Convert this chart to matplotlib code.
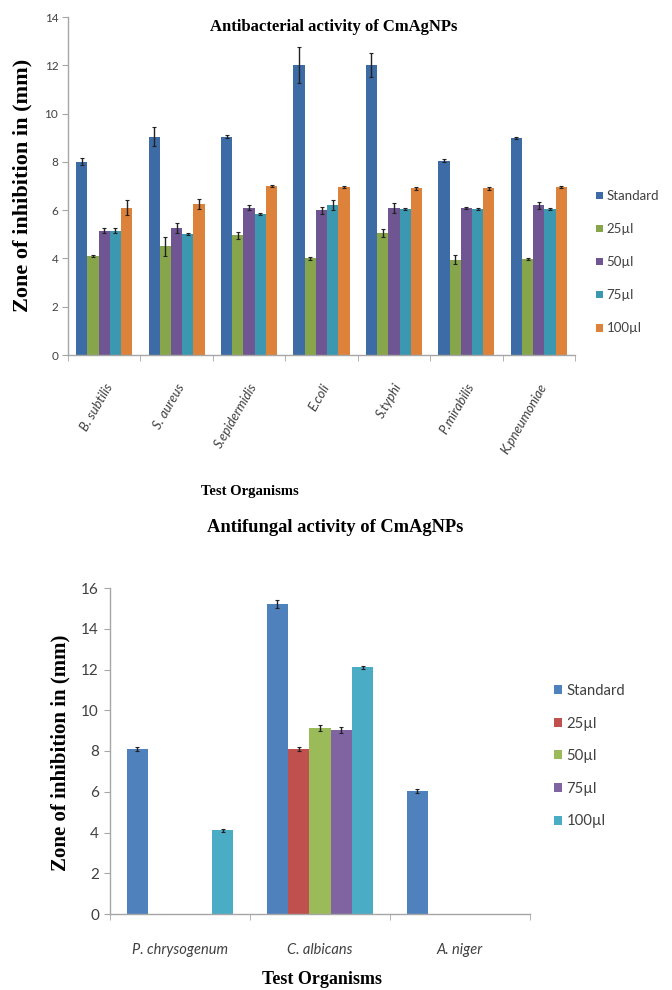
import numpy as np
import matplotlib
matplotlib.use("Agg")
import matplotlib.pyplot as plt
from matplotlib.patches import Patch

# ---------------- data: antibacterial ----------------
bact_orgs = ["B. subtilis", "S. aureus", "S.epidermidis", "E.coli", "S.typhi", "P.mirabilis", "K.pneumoniae"]
bact_series = ["Standard", "25µl", "50µl", "75µl", "100µl"]
bact_std  = [8.0, 9.05, 9.05, 12.0, 12.0, 8.05, 9.0]
bact_25   = [4.1, 4.5, 4.95, 4.0, 5.05, 3.95, 3.97]
bact_50   = [5.15, 5.25, 6.1, 6.0, 6.1, 6.1, 6.2]
bact_75   = [5.15, 5.0, 5.85, 6.2, 6.05, 6.05, 6.05]
bact_100  = [6.1, 6.25, 7.0, 6.95, 6.9, 6.9, 6.95]
bact_std_err = [0.15, 0.4, 0.05, 0.75, 0.5, 0.05, 0.05]
bact_25_err  = [0.05, 0.4, 0.15, 0.05, 0.15, 0.2, 0.05]
bact_50_err  = [0.1, 0.2, 0.1, 0.15, 0.2, 0.05, 0.15]
bact_75_err  = [0.1, 0.05, 0.05, 0.2, 0.05, 0.05, 0.05]
bact_100_err = [0.3, 0.2, 0.05, 0.05, 0.05, 0.05, 0.05]
bact_colors = ["#3C6BA6", "#87A64B", "#6F5592", "#3B98B0", "#DD823B"]

# ---------------- data: antifungal ----------------
fung_orgs = ["P. chrysogenum", "C. albicans", "A. niger"]
fung_series = ["Standard", "25µl", "50µl", "75µl", "100µl"]
fung_std  = [8.1, 15.2, 6.05]
fung_25   = [np.nan, 8.1, np.nan]
fung_50   = [np.nan, 9.15, np.nan]
fung_75   = [np.nan, 9.05, np.nan]
fung_100  = [4.1, 12.1, np.nan]
fung_std_err = [0.1, 0.2, 0.1]
fung_25_err  = [np.nan, 0.1, np.nan]
fung_50_err  = [np.nan, 0.15, np.nan]
fung_75_err  = [np.nan, 0.15, np.nan]
fung_100_err = [0.08, 0.08, np.nan]
fung_colors = ["#4F81BD", "#C0504D", "#9BBB59", "#8064A2", "#4BACC6"]

W, H = 672, 990
fig = plt.figure(figsize=(W / 100, H / 100), dpi=100)
fig.patch.set_facecolor("white")

SERIF = ["Liberation Serif", "DejaVu Serif"]
SANS = ["Lato", "DejaVu Sans"]
spine_c = "#A6A6A6"
tick_c = "#404040"


def fx(px):
    return px / W


def fy(py):
    return 1 - py / H


def style_axes(ax):
    for s in ["top", "right"]:
        ax.spines[s].set_visible(False)
    for s in ["left", "bottom"]:
        ax.spines[s].set_color(spine_c)
        ax.spines[s].set_linewidth(1.0)


# ================= top chart =================
ax1 = fig.add_axes([fx(68), fy(355), fx(575) - fx(68), fy(17) - fy(355)])
style_axes(ax1)
x = np.arange(len(bact_orgs))
bw = 0.155
vals = [bact_std, bact_25, bact_50, bact_75, bact_100]
errs = [bact_std_err, bact_25_err, bact_50_err, bact_75_err, bact_100_err]
for i, (v, e, c, lab) in enumerate(zip(vals, errs, bact_colors, bact_series)):
    pos = x + (i - 2) * bw
    ax1.bar(pos, v, width=bw, color=c, label=lab, zorder=2)
    ax1.errorbar(pos, v, yerr=e, fmt="none", ecolor="#222222", elinewidth=1.0,
                 capsize=1.2, capthick=0.8, zorder=3)
ax1.set_xlim(-0.5, len(bact_orgs) - 0.5)
ax1.set_ylim(0, 14)
ax1.set_yticks(np.arange(0, 15, 2))
ax1.tick_params(axis="y", direction="out", length=4, color=spine_c, labelcolor=tick_c,
                labelsize=8.5, pad=3)
for t in ax1.get_yticklabels():
    t.set_family(SANS)
ax1.set_xticks(x)
ax1.set_xticklabels(bact_orgs, rotation=60, ha="right", va="top", rotation_mode="anchor",
                    fontsize=9.5, style="italic", family=SANS, color=tick_c)
ax1.tick_params(axis="x", which="major", length=0, pad=19)
ax1.set_xticks(np.arange(-0.5, len(bact_orgs) + 0.5, 1), minor=True)
ax1.tick_params(axis="x", which="minor", direction="out", length=4, color=spine_c)

fig.text(fx(334), fy(27), "Antibacterial activity of CmAgNPs", ha="center", va="center",
         family=SERIF, weight="bold", fontsize=12)
fig.text(fx(22), fy(185), "Zone of inhibition in (mm)", ha="center", va="center",
         rotation=90, family=SERIF, weight="bold", fontsize=16)
fig.text(fx(250), fy(492), "Test Organisms", ha="center", va="center",
         family=SERIF, weight="bold", fontsize=10.5)

h1 = [Patch(facecolor=c) for c in bact_colors]
fig.legend(h1, bact_series, loc="upper left", bbox_to_anchor=(fx(596), fy(190)),
           frameon=False, handlelength=0.5, handleheight=0.5,
           handletextpad=0.3, labelspacing=1.6, borderpad=0, borderaxespad=0,
           prop={"family": SANS, "size": 9.5}, labelcolor=tick_c)

# ================= bottom chart =================
ax2 = fig.add_axes([fx(110), fy(914), fx(530) - fx(110), fy(588) - fy(914)])
style_axes(ax2)
x2 = np.arange(len(fung_orgs))
bw2 = 0.152
vals2 = [fung_std, fung_25, fung_50, fung_75, fung_100]
errs2 = [fung_std_err, fung_25_err, fung_50_err, fung_75_err, fung_100_err]
for i, (v, e, c, lab) in enumerate(zip(vals2, errs2, fung_colors, fung_series)):
    pos = x2 + (i - 2) * bw2
    ax2.bar(pos, v, width=bw2, color=c, label=lab, zorder=2)
    ax2.errorbar(pos, v, yerr=e, fmt="none", ecolor="#222222", elinewidth=1.0,
                 capsize=1.2, capthick=0.8, zorder=3)
ax2.set_xlim(-0.5, len(fung_orgs) - 0.5)
ax2.set_ylim(0, 16)
ax2.set_yticks(np.arange(0, 17, 2))
ax2.tick_params(axis="y", direction="out", length=4, color=spine_c, labelcolor=tick_c,
                labelsize=11, pad=4)
for t in ax2.get_yticklabels():
    t.set_family(SANS)
ax2.set_xticks(x2)
ax2.set_xticklabels(fung_orgs, fontsize=10.5, style="italic", family=SANS, color=tick_c)
ax2.tick_params(axis="x", which="major", length=0, pad=21)
ax2.set_xticks(np.arange(-0.5, len(fung_orgs) + 0.5, 1), minor=True)
ax2.tick_params(axis="x", which="minor", direction="out", length=4, color=spine_c)

fig.text(fx(335), fy(527), "Antifungal activity of CmAgNPs", ha="center", va="center",
         family=SERIF, weight="bold", fontsize=13.3)
fig.text(fx(60), fy(753), "Zone of inhibition in (mm)", ha="center", va="center",
         rotation=90, family=SERIF, weight="bold", fontsize=15)
fig.text(fx(322), fy(980), "Test Organisms", ha="center", va="center",
         family=SERIF, weight="bold", fontsize=13)

h2 = [Patch(facecolor=c) for c in fung_colors]
fig.legend(h2, fung_series, loc="upper left", bbox_to_anchor=(fx(554), fy(684)),
           frameon=False, handlelength=0.55, handleheight=0.55,
           handletextpad=0.3, labelspacing=1.25, borderpad=0, borderaxespad=0,
           prop={"family": SANS, "size": 10.7}, labelcolor=tick_c)

fig.savefig("out.png", dpi=100, facecolor="white")
